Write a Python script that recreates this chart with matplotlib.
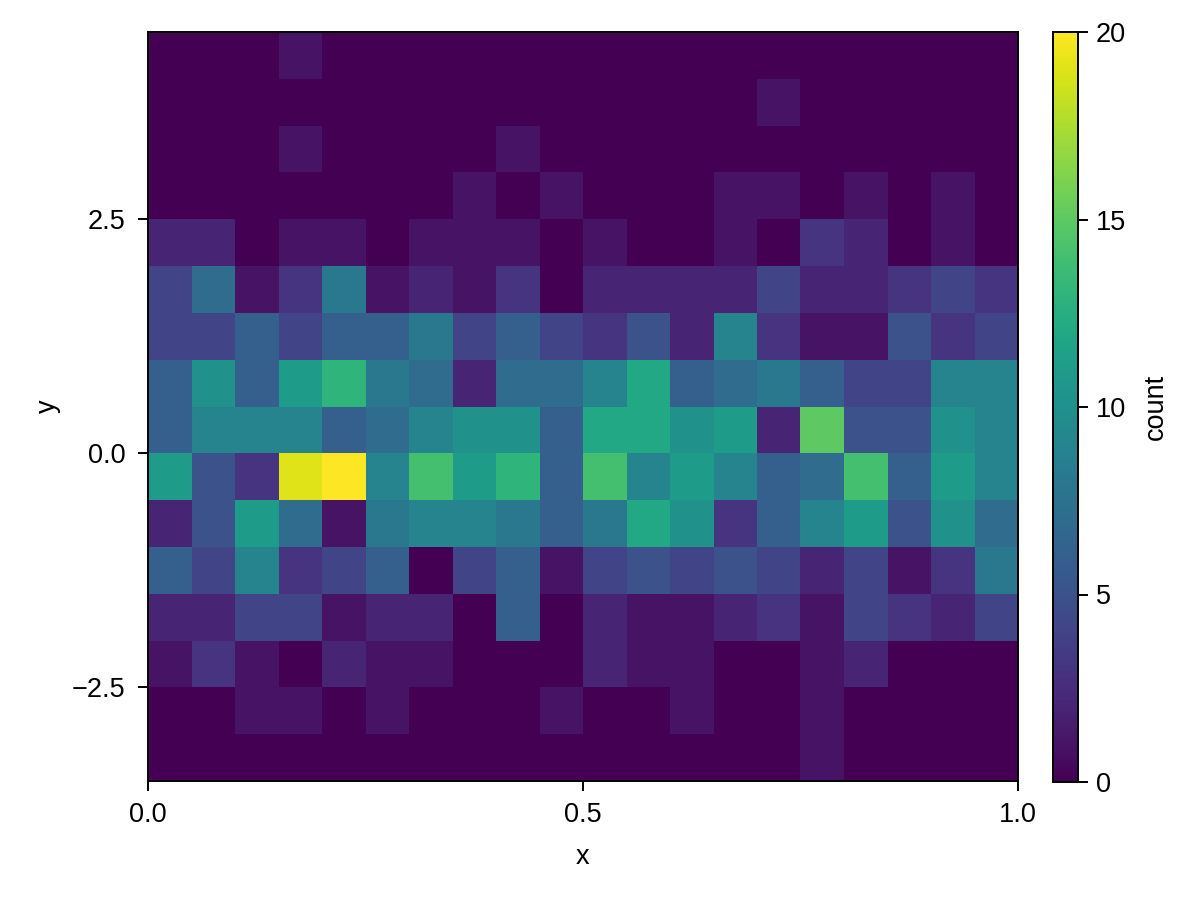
import numpy as np
import matplotlib
matplotlib.use("Agg")
import matplotlib.pyplot as plt

plt.rcParams['font.family'] = ['Liberation Sans', 'DejaVu Sans']

x_edges = np.linspace(0.0, 1.0, 21)
y_edges = np.arange(-3.5, 4.51, 0.5)

# counts per row, from bottom (y=-3.5..-3.0) to top (y=4.0..4.5); 20 x-bins each
row_m35 = [0, 0, 0, 0, 0, 0, 0, 0, 0, 0, 0, 0, 0, 0, 0, 1, 0, 0, 0, 0]
row_m30 = [0, 0, 1, 1, 0, 1, 0, 0, 0, 1, 0, 0, 1, 0, 0, 1, 0, 0, 0, 0]
row_m25 = [1, 3, 1, 0, 2, 1, 1, 0, 0, 0, 2, 1, 1, 0, 0, 1, 2, 0, 0, 0]
row_m20 = [2, 2, 4, 4, 1, 2, 2, 0, 6, 0, 2, 1, 1, 2, 3, 1, 4, 3, 2, 4]
row_m15 = [6, 4, 9, 3, 4, 6, 0, 4, 6, 1, 4, 5, 4, 5, 4, 2, 4, 1, 3, 8]
row_m10 = [2, 5, 11, 7, 1, 8, 9, 9, 8, 6, 8, 12, 10, 3, 6, 9, 11, 5, 10, 7]
row_m05 = [11, 5, 3, 19, 20, 9, 14, 11, 13, 6, 14, 9, 11, 9, 6, 7, 14, 6, 11, 9]
row_p00 = [6, 9, 9, 9, 6, 7, 9, 10, 10, 6, 12, 12, 10, 11, 2, 15, 5, 5, 10, 9]
row_p05 = [6, 10, 6, 11, 13, 8, 7, 2, 7, 7, 9, 12, 6, 7, 8, 6, 4, 4, 9, 9]
row_p10 = [4, 4, 6, 4, 6, 6, 8, 4, 6, 4, 3, 5, 2, 9, 3, 1, 1, 5, 3, 4]
row_p15 = [4, 7, 1, 3, 8, 1, 2, 1, 3, 0, 2, 2, 2, 2, 4, 2, 2, 3, 4, 3]
row_p20 = [2, 2, 0, 1, 1, 0, 1, 1, 1, 0, 1, 0, 0, 1, 0, 3, 2, 0, 1, 0]
row_p25 = [0, 0, 0, 0, 0, 0, 0, 1, 0, 1, 0, 0, 0, 1, 1, 0, 1, 0, 1, 0]
row_p30 = [0, 0, 0, 1, 0, 0, 0, 0, 1, 0, 0, 0, 0, 0, 0, 0, 0, 0, 0, 0]
row_p35 = [0, 0, 0, 0, 0, 0, 0, 0, 0, 0, 0, 0, 0, 0, 1, 0, 0, 0, 0, 0]
row_p40 = [0, 0, 0, 1, 0, 0, 0, 0, 0, 0, 0, 0, 0, 0, 0, 0, 0, 0, 0, 0]

counts = np.array([row_m35, row_m30, row_m25, row_m20, row_m15, row_m10, row_m05,
                   row_p00, row_p05, row_p10, row_p15, row_p20, row_p25, row_p30,
                   row_p35, row_p40])

x_ticks = [0.0, 0.5, 1.0]
x_ticklabels = ["0.0", "0.5", "1.0"]
y_ticks = [-2.5, 0.0, 2.5]
y_ticklabels = ["−2.5", "0.0", "2.5"]
cb_ticks = [0, 5, 10, 15, 20]

FS = 19.5

fig = plt.figure(figsize=(12, 9), dpi=100)
ax = fig.add_axes([148/1200, 1 - 781/900, (1018-148)/1200, (781-32)/900])
cax = fig.add_axes([1053/1200, 1 - 782/900, 25/1200, (782-32)/900])

mesh = ax.pcolormesh(x_edges, y_edges, counts, cmap='viridis', vmin=0, vmax=20,
                     shading='flat', linewidth=0, antialiased=False)
ax.set_xlim(0, 1)
ax.set_ylim(-3.5, 4.5)
ax.set_xticks(x_ticks)
ax.set_xticklabels(x_ticklabels)
ax.set_yticks(y_ticks)
ax.set_yticklabels(y_ticklabels)
ax.tick_params(direction='out', length=7, width=1.4, labelsize=FS)
ax.tick_params(axis='x', pad=8)
ax.tick_params(axis='y', pad=9)
for s in ax.spines.values():
    s.set_linewidth(1.4)
ax.set_xlabel("x", fontsize=FS, labelpad=12)
ax.set_ylabel("y", fontsize=FS, labelpad=8)

cb = fig.colorbar(mesh, cax=cax)
cb.set_ticks(cb_ticks)
cb.ax.tick_params(direction='out', length=7, width=1.4, labelsize=FS, pad=6)
cb.outline.set_linewidth(1.4)
cb.set_label("count", fontsize=FS, labelpad=12)

fig.savefig("out.png", dpi=100)
